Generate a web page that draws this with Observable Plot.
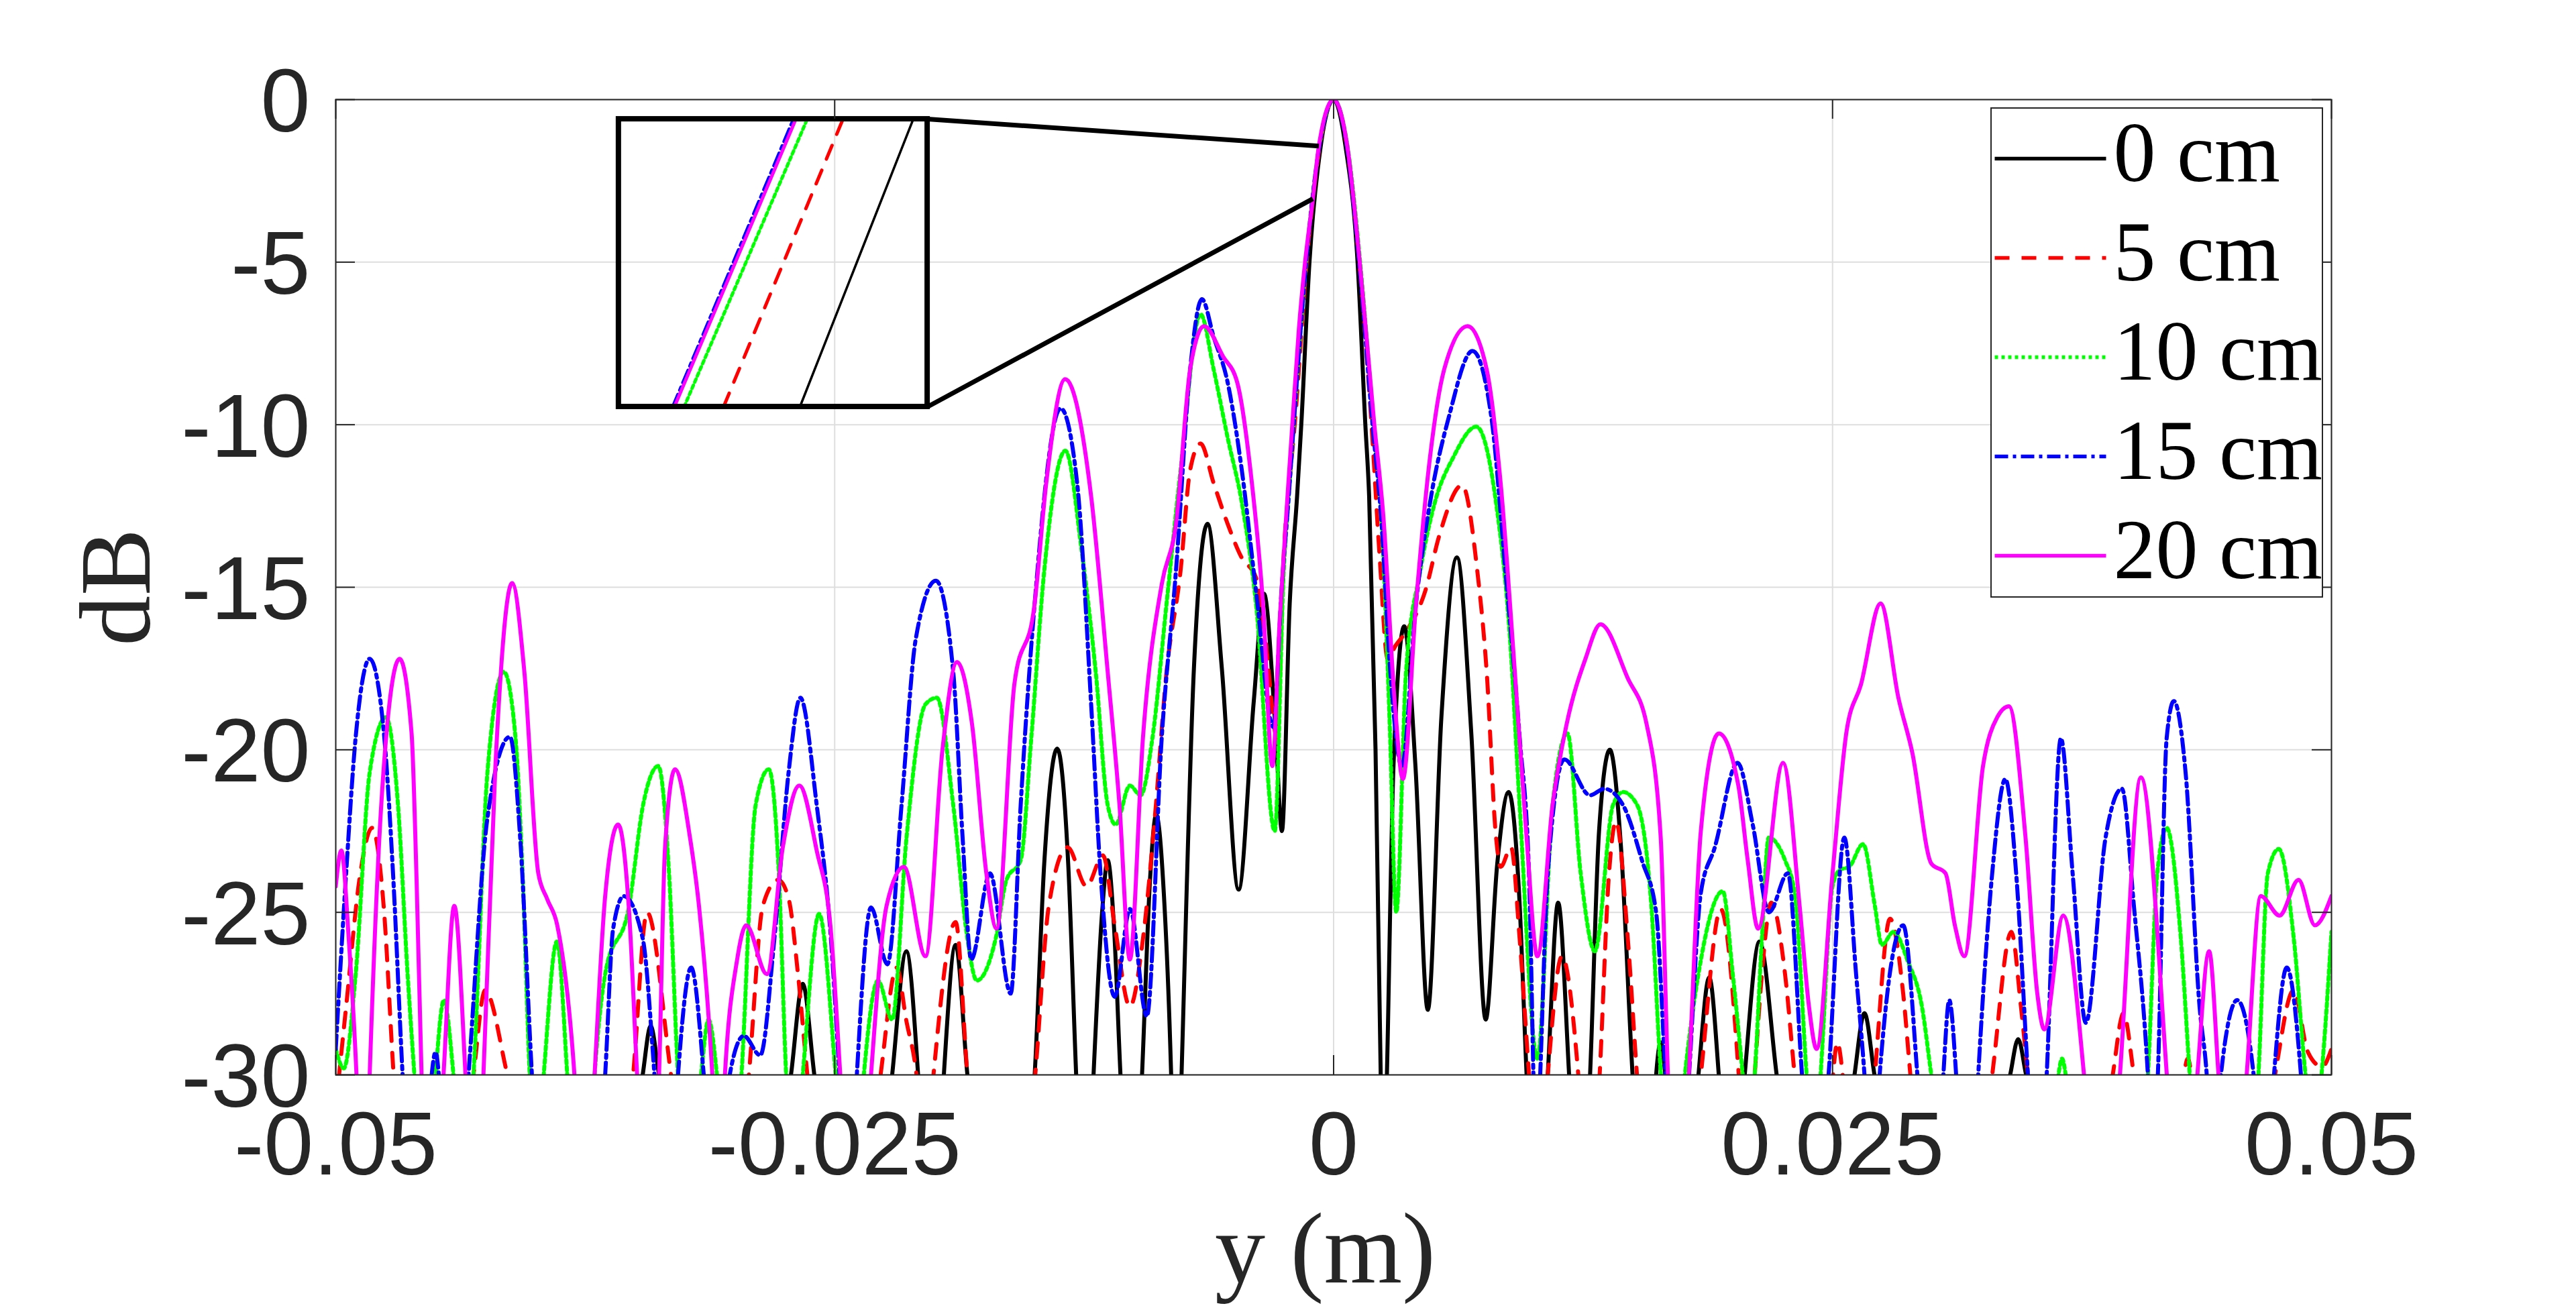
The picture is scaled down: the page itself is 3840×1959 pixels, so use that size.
<!DOCTYPE html>
<html>
<head>
<meta charset="utf-8">
<script src="https://cdn.jsdelivr.net/npm/d3@7"></script>
<script src="https://cdn.jsdelivr.net/npm/@observablehq/plot@0.6"></script>
<style>
  html, body { margin: 0; padding: 0; background: #ffffff; }
  svg { display: block; }
</style>
</head>
<body>
<div id="chart"></div>
<script>
// ---------- axis ticks ----------
const xTicks = [-0.05, -0.025, 0, 0.025, 0.05];
const xTickLabels = ["-0.05", "-0.025", "0", "0.025", "0.05"];
const yTicks = [0, -5, -10, -15, -20, -25, -30];
const yTickLabels = ["0", "-5", "-10", "-15", "-20", "-25", "-30"];
const xDomain = [-0.05, 0.05];
const yDomain = [-30, 0];

// ---------- series: [position (mm), level (dB)] ----------
const s0 = [[-50,-40],[-36.5,-40],[-34.62,-30],[-34.22,-28.5],[-33.8,-30],[-30.2,-40],[-27.19,-30],[-26.6,-27.2],[-26.02,-30],[-23.7,-40],[-22.12,-30],[-21.41,-26.2],[-20.82,-30],[-20.15,-38],[-19.53,-30],[-18.94,-26.0],[-18.35,-30],[-16.5,-38],[-14.98,-30],[-14.5,-23.5],[-13.85,-19.96],[-13.3,-23.5],[-12.9,-30],[-12.45,-36],[-12.03,-30],[-11.6,-25.0],[-11.32,-23.4],[-11.0,-25.5],[-10.68,-30],[-10.1,-36],[-9.6,-30],[-9.2,-24.0],[-8.89,-22.0],[-8.5,-24.5],[-8.14,-30],[-7.9,-36],[-7.62,-30],[-7.0,-17.5],[-6.32,-13.05],[-5.6,-17.5],[-4.76,-24.3],[-4.0,-18.5],[-3.49,-15.2],[-2.9,-19.5],[-2.59,-22.5],[-2.2,-15.5],[-1.83,-12.2],[-1.62,-10],[-1.21,-5],[-0.65,-1.45],[0,0],[0.6,-1.45],[1.2,-5],[1.59,-10],[1.78,-12.2],[2.1,-20],[2.36,-30],[2.5,-34],[2.67,-30],[3.0,-20.5],[3.54,-16.2],[4.1,-20.5],[4.72,-28.0],[5.4,-19.0],[6.18,-14.08],[6.9,-19.5],[7.62,-28.3],[8.2,-23.5],[8.77,-21.3],[9.3,-24.5],[9.67,-30],[10.2,-36],[10.73,-30],[11.25,-24.7],[11.8,-30],[12.3,-36],[12.85,-30],[13.3,-22.5],[13.84,-20.0],[14.4,-23],[14.98,-30],[15.7,-36],[16.1,-30.5],[16.39,-29.0],[16.7,-30.5],[17.5,-36],[18.28,-30],[18.82,-27.0],[19.3,-30],[19.9,-36],[20.6,-30],[21.34,-25.9],[22.2,-30],[24.4,-40],[26.1,-30],[26.6,-28.1],[27.1,-30],[30.7,-40],[33.9,-30],[34.3,-28.9],[34.7,-30],[42,-40],[50,-40]];

const s5 = [[-50,-31],[-49.48,-27.9],[-48.77,-23.8],[-48.18,-22.4],[-47.6,-24.8],[-47.1,-30],[-45,-40],[-43.1,-30],[-42.52,-27.4],[-41.4,-30],[-38.2,-40],[-35.1,-30],[-34.4,-25.0],[-33.2,-30],[-31.2,-40],[-29.3,-30],[-28.6,-24.8],[-27.83,-24.0],[-27.3,-24.6],[-26.84,-26.9],[-26.37,-30],[-24.5,-40],[-22.7,-30],[-21.89,-26.7],[-21.42,-28.3],[-20.9,-30],[-20.47,-33],[-20.05,-30],[-18.94,-25.3],[-18.35,-30],[-16.6,-40],[-14.95,-30],[-14.27,-24.8],[-13.33,-23.0],[-12.38,-24.2],[-11.56,-23.25],[-10.97,-25.4],[-10.21,-27.9],[-9.55,-25.8],[-8.96,-22.1],[-8.37,-17.6],[-7.67,-14.5],[-7.19,-11.4],[-6.67,-10.58],[-6.01,-11.8],[-5.31,-13.05],[-4.6,-14.1],[-3.89,-14.7],[-3.42,-16.6],[-2.83,-19.65],[-2.5,-14],[-2.2,-11.7],[-1.95,-10],[-1.35,-5],[-0.7,-1.45],[0,0],[0.67,-1.45],[1.28,-5],[1.9,-10],[2.3,-14],[2.71,-17.2],[3.1,-16.8],[3.65,-16.35],[4.6,-15.1],[5.3,-13.4],[6.44,-11.86],[7.2,-14.5],[7.67,-17.6],[8.14,-22.7],[8.37,-23.6],[8.89,-23.0],[9.32,-25.8],[9.79,-30],[10.25,-34],[10.73,-30],[11.44,-26.35],[12.26,-30],[12.8,-35],[13.33,-30],[13.8,-23.8],[14.15,-22.2],[14.74,-25.8],[15.2,-30],[16.8,-40],[18.4,-30],[19.4,-24.9],[20.3,-30],[20.7,-34],[21.1,-30],[21.46,-26.9],[21.93,-24.7],[22.62,-26.9],[23.1,-30],[24.2,-36],[24.95,-30.5],[25.24,-29.0],[25.6,-30.5],[26.4,-36],[27.12,-30],[27.88,-25.2],[28.54,-27.5],[28.9,-30],[31,-40],[33.0,-30],[33.96,-25.6],[34.44,-27.9],[34.79,-30],[37,-40],[39.04,-30],[39.58,-28.1],[40.1,-30],[41.5,-36],[42.5,-30.5],[42.8,-29.5],[43.1,-30.5],[45,-40],[47.17,-30],[48.1,-27.4],[48.82,-29.3],[49.53,-29.75],[50,-29.2]];

const s10 = [[-50,-29.2],[-49.6,-29.8],[-49.0,-26.9],[-48.3,-20.7],[-47.48,-19.0],[-46.88,-21.7],[-46.4,-26.9],[-46.06,-30],[-45.5,-35],[-45.0,-30],[-44.58,-27.7],[-44.1,-30],[-43.6,-34],[-43.1,-30],[-42.4,-20.7],[-41.58,-17.6],[-40.99,-19.65],[-40.64,-23.8],[-40.28,-30],[-39.95,-33],[-39.58,-30],[-38.92,-25.9],[-38.4,-30],[-37.7,-38],[-37.03,-30],[-36.5,-26.9],[-35.3,-24.8],[-34.6,-21.7],[-33.84,-20.5],[-33.3,-23.8],[-32.85,-30],[-32.3,-34],[-31.7,-30],[-31.32,-28.3],[-30.9,-30],[-30.3,-35],[-29.67,-30],[-28.96,-21.7],[-28.3,-20.6],[-27.8,-23.8],[-27.43,-30],[-27.0,-33],[-26.6,-30],[-25.78,-25.05],[-24.95,-30],[-24.2,-36],[-23.54,-30],[-22.83,-27.1],[-22.12,-28.3],[-21.4,-22.7],[-20.45,-18.6],[-19.88,-18.4],[-19.06,-21.7],[-18.35,-25.8],[-17.88,-27.1],[-16.93,-25.8],[-16.39,-24.0],[-15.68,-23.4],[-15.15,-19.65],[-14.5,-14.5],[-13.44,-10.8],[-12.62,-13.9],[-11.92,-17.6],[-11.32,-21.7],[-10.92,-22.3],[-10.21,-21.1],[-9.67,-21.4],[-9.08,-19.65],[-8.37,-15.5],[-7.67,-11.4],[-6.67,-6.6],[-6.01,-8.3],[-5.31,-10.4],[-4.6,-12.4],[-3.89,-15.5],[-2.95,-22.5],[-2.5,-14.5],[-2.25,-12.2],[-2.0,-10],[-1.38,-5],[-0.72,-1.45],[0,0],[0.7,-1.45],[1.33,-5],[2.0,-10],[2.45,-13.5],[2.8,-19],[3.14,-25.0],[3.63,-17.6],[4.34,-14.5],[5.07,-12.4],[6.0,-11.0],[7.15,-10.06],[8.14,-12.4],[8.84,-16.6],[9.32,-21.7],[10.21,-29.5],[10.97,-21.7],[11.72,-19.5],[12.38,-23.8],[13.09,-26.2],[14.0,-21.7],[14.5,-21.3],[15.21,-21.7],[15.92,-24.8],[16.4,-30],[17.0,-34],[17.6,-30],[18.28,-26.9],[19.5,-24.35],[20.0,-26.9],[20.5,-30],[20.8,-32],[21.1,-30],[21.46,-25.8],[21.8,-22.7],[22.62,-23.4],[23.1,-24.4],[23.7,-30],[24.05,-33],[24.4,-30],[25.0,-24.2],[25.35,-23.7],[25.83,-23.6],[26.53,-22.9],[27.12,-24.8],[27.47,-26.0],[28.06,-25.6],[28.77,-26.5],[29.48,-27.9],[29.95,-30],[33.0,-40],[36.2,-30.5],[36.5,-29.5],[36.8,-30.5],[38.8,-40],[40.8,-30],[41.27,-23.8],[41.74,-22.4],[42.45,-25.8],[42.9,-30],[44.6,-40],[46.34,-30],[46.81,-23.8],[47.36,-23.05],[48.11,-25.8],[48.7,-30],[49.1,-32],[49.5,-30],[50,-25.6]];

const s15 = [[-50,-29.2],[-49.48,-23.8],[-49.0,-19.6],[-48.3,-17.2],[-47.6,-19.4],[-47.13,-23.8],[-46.65,-30],[-46.0,-36],[-45.35,-31],[-45.0,-29.3],[-44.7,-31],[-44.1,-36],[-43.35,-30],[-42.4,-22.1],[-41.27,-19.6],[-40.76,-22.7],[-40.17,-30],[-38.3,-40],[-36.5,-30],[-36.1,-25.5],[-35.57,-24.5],[-34.62,-25.8],[-34.03,-30],[-33.4,-36],[-32.85,-30],[-32.19,-26.7],[-31.56,-30],[-30.9,-36],[-30.26,-30],[-29.55,-28.8],[-28.73,-29.4],[-28.02,-25.8],[-27.31,-20.7],[-26.72,-18.4],[-25.9,-21.7],[-25.19,-25.8],[-24.76,-30],[-24.3,-35],[-23.89,-30],[-23.18,-24.85],[-22.36,-26.6],[-21.65,-21.7],[-20.94,-16.6],[-19.93,-14.8],[-19.06,-17.6],[-18.59,-22.7],[-18.16,-26.45],[-17.22,-23.8],[-16.18,-27.5],[-15.68,-21.7],[-14.98,-15.5],[-13.68,-9.5],[-12.85,-11.8],[-12.15,-18.6],[-11.68,-23.8],[-10.97,-27.6],[-10.2,-24.9],[-9.36,-28.2],[-8.61,-19.6],[-7.9,-14.5],[-7.19,-8.3],[-6.6,-6.14],[-6.01,-7.3],[-5.31,-8.7],[-4.6,-11.4],[-3.89,-15.1],[-3.02,-19.3],[-2.6,-15],[-2.25,-12.2],[-2.0,-10],[-1.38,-5],[-0.72,-1.45],[0,0],[0.67,-1.45],[1.28,-5],[1.95,-10],[2.4,-13],[2.83,-17.5],[3.42,-20.5],[4.13,-15.5],[4.83,-12.4],[5.78,-9.75],[6.96,-7.73],[7.9,-9.75],[8.61,-14.5],[9.32,-19.6],[9.79,-23.8],[10.14,-32],[10.73,-23.8],[11.56,-20.3],[12.85,-21.4],[13.56,-21.2],[14.5,-21.7],[15.45,-23.4],[16.16,-25.0],[16.63,-30],[17.2,-36],[17.81,-30],[18.4,-24.4],[19.1,-23.0],[20.24,-20.4],[21.0,-22.3],[21.82,-25],[22.76,-23.8],[23.47,-30],[24.1,-35],[24.8,-30],[25.59,-22.7],[26.18,-26.9],[26.6,-30],[27.0,-34],[27.36,-30],[28.54,-25.4],[29.25,-30],[29.9,-36],[30.5,-30.5],[30.85,-27.7],[31.25,-30.5],[31.8,-36],[32.3,-30],[33.0,-23.8],[33.66,-20.9],[34.2,-23.8],[34.79,-30],[35.3,-35],[35.73,-30],[36.44,-19.65],[37.03,-23.8],[37.69,-28.4],[38.68,-22.7],[39.5,-21.2],[40.1,-24.8],[40.8,-30],[41.05,-33],[41.3,-30],[41.74,-19.65],[42.1,-18.5],[42.69,-20.7],[43.39,-27.9],[43.75,-30],[44.1,-34],[44.46,-30],[45.28,-27.7],[46.1,-30],[46.6,-35],[47.12,-30],[47.76,-26.7],[48.47,-30],[49.2,-38],[50,-36]];

const s20 = [[-50,-24.2],[-49.72,-23.1],[-49.35,-25.8],[-48.96,-30],[-48.6,-36],[-48.3,-30],[-47.7,-21.5],[-46.8,-17.2],[-46.2,-19.5],[-45.95,-24],[-45.7,-30],[-45.15,-36],[-44.6,-30],[-44.06,-24.8],[-43.5,-30],[-43.05,-36],[-42.6,-30],[-42.0,-20.5],[-41.16,-14.87],[-40.55,-17.6],[-39.85,-23.8],[-39.4,-24.6],[-38.9,-25.4],[-38.04,-30],[-37.5,-36],[-37.03,-30],[-36.5,-24.5],[-35.85,-22.3],[-35.3,-25],[-34.9,-30],[-34.35,-36],[-33.8,-30],[-33.5,-23],[-33.0,-20.6],[-32.25,-22.7],[-31.8,-24.8],[-31.13,-30],[-30.8,-34],[-30.5,-30],[-29.9,-26.5],[-29.43,-25.4],[-28.4,-26.9],[-27.6,-23],[-26.77,-21.1],[-25.9,-23.1],[-25.2,-25.5],[-24.72,-30],[-24.0,-38],[-23.18,-30],[-22.4,-24.8],[-21.53,-23.6],[-20.45,-26.35],[-19.6,-20],[-18.87,-17.3],[-18.12,-19.2],[-17.4,-23.8],[-16.89,-25.5],[-16.0,-18.0],[-15.0,-15.6],[-14.4,-11.8],[-13.45,-8.6],[-12.15,-12.2],[-11.32,-17.6],[-10.73,-21.7],[-10.21,-26.45],[-9.55,-19.6],[-8.61,-14.9],[-7.9,-13.05],[-7.19,-8.3],[-6.49,-6.97],[-5.54,-7.9],[-4.83,-8.7],[-4.13,-11.6],[-3.54,-15.5],[-3.07,-20.5],[-2.7,-16.0],[-2.31,-12.2],[-2.07,-10],[-1.74,-7.05],[-1.43,-5],[-1.04,-3.05],[-0.74,-1.43],[0,0],[0.69,-1.45],[1.31,-5],[2.04,-10],[2.49,-12.8],[3.07,-18.6],[3.47,-20.9],[4.13,-15.5],[4.83,-11.0],[5.54,-8.3],[6.72,-6.97],[7.67,-8.3],[8.37,-11.8],[9.08,-17.6],[9.67,-22.7],[10.21,-26.35],[10.97,-21.7],[11.68,-19.2],[12.62,-17.2],[13.37,-16.14],[14.74,-17.8],[15.68,-19.2],[16.39,-22.7],[16.75,-30],[17.2,-36],[17.8,-30],[18.4,-22.5],[19.3,-19.5],[20.28,-21.1],[20.75,-23.4],[21.27,-25.5],[22.52,-20.4],[23.35,-24.8],[23.82,-27.9],[24.2,-29.2],[25.0,-23.8],[25.71,-19.4],[26.42,-18.0],[27.41,-15.5],[28.3,-18.4],[29.0,-20.1],[29.95,-23.5],[30.66,-23.8],[31.13,-25.4],[31.6,-26.35],[32.54,-20.5],[33.25,-19.0],[33.84,-18.66],[34.67,-22.7],[35.26,-27.5],[35.61,-28.6],[36.56,-25.1],[37.6,-30],[38.5,-37],[39.4,-30],[40.45,-20.85],[41.75,-30],[42.5,-37],[43.28,-30],[43.87,-26.2],[44.34,-30],[45.0,-36],[45.75,-30],[46.46,-24.5],[47.4,-25.1],[48.35,-24.0],[49.17,-25.4],[50,-24.5]];

const seriesLabels = ["0 cm", "5 cm", "10 cm", "15 cm", "20 cm"];
const seriesColors = ["#000000", "#ff0000", "#00ff00", "#0000ff", "#ff00ff"];
const seriesDashes = [null, "22,18", "5,5", "20,7,5,7", null];
const seriesData = [s0, s5, s10, s15, s20];

// ---------- zoomed inset: [position (mm), level (dB)] in inset axes ----------
const insetXLim = [-1.18, -0.42];
const insetYLim = [-3.05, -1.43];
const inset0 = [[-0.734, -3.05], [-0.455, -1.43]];
const inset5 = [[-0.922, -3.05], [-0.628, -1.43]];
const inset10 = [[-1.019, -3.05], [-0.716, -1.43]];
const inset15 = [[-1.047, -3.05], [-0.750, -1.43]];
const inset20 = [[-1.043, -3.05], [-0.744, -1.43]];
const insetData = [inset0, inset5, inset10, inset15, inset20];
// zoomed window on the main lobe (mm, dB) and inset box placement (mm, dB)
const zoomWinX = [-1.04, -0.74];
const zoomWinY = [-3.05, -1.43];
const insetBoxX = [-35.82, -20.35];
const insetBoxY = [-9.45, -0.6];

// ---------- layout ----------
const W = 3840, H = 1959;
const mL = 500, mR = 365, mT = 148, mB = 357;
const xs = Plot.scale({x: {domain: xDomain, range: [mL, W - mR]}});
const ys = Plot.scale({y: {domain: yDomain, range: [H - mB, mT]}});
const tickLen = 29;
const sansFont = "'Liberation Sans', Arial, Helvetica, sans-serif";
const serifFont = "'Liberation Serif', 'Times New Roman', serif";
const mm = v => v / 1000;

const marks = [];
marks.push(Plot.gridX(xTicks, {stroke: "#dedede", strokeOpacity: 1, strokeWidth: 2}));
marks.push(Plot.gridY(yTicks, {stroke: "#dedede", strokeOpacity: 1, strokeWidth: 2}));

seriesData.forEach((s, i) => {
  marks.push(Plot.line(s, {
    x: d => mm(d[0]), y: d => d[1],
    stroke: seriesColors[i], strokeWidth: 6,
    strokeDasharray: seriesDashes[i] || undefined,
    curve: "monotone-x", clip: true
  }));
});

// inset: map inset axes onto the box in main-plot data units
const ixMap = d3.scaleLinear(insetXLim, insetBoxX.map(mm));
const iyMap = d3.scaleLinear(insetYLim, insetBoxY);
insetData.forEach((s, i) => {
  marks.push(Plot.line(s, {
    x: d => ixMap(d[0]), y: d => iyMap(d[1]),
    stroke: seriesColors[i], strokeWidth: i === 0 ? 3.5 : 5,
    strokeDasharray: seriesDashes[i] || undefined
  }));
});
marks.push(Plot.rect([0], {
  x1: mm(insetBoxX[0]), x2: mm(insetBoxX[1]), y1: insetBoxY[0], y2: insetBoxY[1],
  fill: "none", stroke: "#000", strokeWidth: 8
}));
marks.push(Plot.link([
  {x1: insetBoxX[1], y1: insetBoxY[1], x2: zoomWinX[1], y2: zoomWinY[1]},
  {x1: insetBoxX[1], y1: insetBoxY[0], x2: zoomWinX[0], y2: zoomWinY[0]}
], {x1: d => mm(d.x1), y1: "y1", x2: d => mm(d.x2), y2: "y2", stroke: "#000", strokeWidth: 7}));

// frame and inward ticks
marks.push(Plot.frame({stroke: "#262626", strokeWidth: 2}));
const tx = xs.invert(mL + tickLen) - xDomain[0];
const ty = yDomain[0] - ys.invert(H - mB - tickLen);
marks.push(Plot.ruleX(xTicks, {x: d => d, y1: yDomain[0], y2: yDomain[0] - ty, stroke: "#262626", strokeWidth: 2}));
marks.push(Plot.ruleX(xTicks, {x: d => d, y1: yDomain[1], y2: yDomain[1] + ty, stroke: "#262626", strokeWidth: 2}));
marks.push(Plot.ruleY(yTicks, {y: d => d, x1: xDomain[0], x2: xDomain[0] + tx, stroke: "#262626", strokeWidth: 2}));
marks.push(Plot.ruleY(yTicks, {y: d => d, x1: xDomain[1], x2: xDomain[1] - tx, stroke: "#262626", strokeWidth: 2}));

// tick labels
marks.push(Plot.axisX({ticks: xTicks, tickFormat: d => xTickLabels[xTicks.indexOf(d)], tickSize: 0, tickPadding: 54,
  fontSize: 133, fontFamily: sansFont, fill: "#262626", label: null}));
marks.push(Plot.axisY({ticks: yTicks, tickFormat: d => yTickLabels[yTicks.indexOf(d)], tickSize: 0, tickPadding: 38,
  fontSize: 133, fontFamily: sansFont, fill: "#262626", label: null, dy: 5}));

// axis titles
marks.push(Plot.text(["y (m)"], {x: xs.invert(1975), y: ys.invert(1911), text: d => d, lineAnchor: "bottom",
  textAnchor: "middle", fontFamily: serifFont, fontSize: 150, fill: "#262626"}));
marks.push(Plot.text(["dB"], {x: xs.invert(222), y: ys.invert(875), text: d => d, rotate: -90, lineAnchor: "bottom",
  textAnchor: "middle", fontFamily: serifFont, fontSize: 150, fill: "#262626"}));

// legend
marks.push(Plot.rect([0], {x1: xs.invert(2968), x2: xs.invert(3462), y1: ys.invert(161), y2: ys.invert(890),
  fill: "#ffffff", stroke: "#262626", strokeWidth: 2}));
const legendRows = [236, 384, 532, 680, 828];
seriesLabels.forEach((lab, i) => {
  const ry = ys.invert(legendRows[i]);
  marks.push(Plot.link([0], {x1: xs.invert(2973), x2: xs.invert(3139), y1: ry, y2: ry,
    stroke: seriesColors[i], strokeWidth: 5.5, strokeDasharray: seriesDashes[i] || undefined}));
  marks.push(Plot.text([lab], {x: xs.invert(3150), y: ys.invert(legendRows[i] + 33), text: d => d,
    textAnchor: "start", lineAnchor: "bottom", fontFamily: serifFont, fontSize: 126, fill: "#000"}));
});

const chart = Plot.plot({
  width: W, height: H,
  marginLeft: mL, marginRight: mR, marginTop: mT, marginBottom: mB,
  x: {domain: xDomain},
  y: {domain: yDomain},
  style: {background: "#ffffff", color: "#262626", fontFamily: sansFont},
  marks
});
document.getElementById("chart").appendChild(chart);
</script>
</body>
</html>
